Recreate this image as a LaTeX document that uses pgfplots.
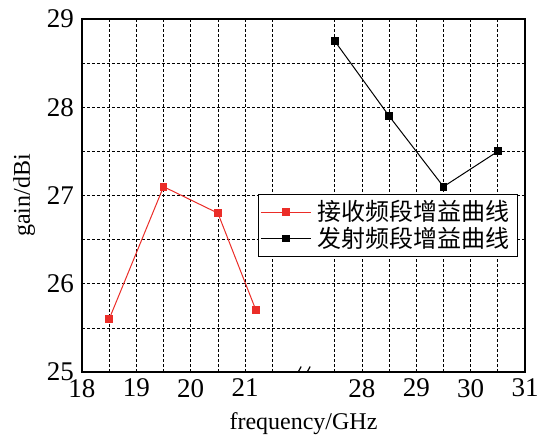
\documentclass[border=0pt]{standalone}
\usepackage{fontspec}
\setmainfont{Liberation Serif}
\newfontfamily\cjk{Noto Sans CJK SC}
\usepackage{pgfplots}
\pgfplotsset{compat=1.18}
\definecolor{myred}{RGB}{235,45,40}
\begin{document}
\begin{tikzpicture}
\begin{axis}[
  name=ax,
  scale only axis,
  width=221.5pt, height=176.5pt,
  xmin=18, xmax=26.15, ymin=25, ymax=29,
  xtick={18,19,20,21,23.15,24.15,25.15,26.15},
  xticklabels={18,19,20,21,28,29,30,31},
  minor xtick={18.5,19.5,20.5,21.5,22.65,23.65,24.65,25.65},
  ytick={25,26,27,28,29},
  minor ytick={25.5,26.5,27.5,28.5},
  grid=both,
  major grid style={black, line width=0.35pt, dash pattern=on 1.5pt off 1pt},
  minor grid style={black, line width=0.35pt, dash pattern=on 1.5pt off 1pt},
  major tick length=0pt, minor tick length=0pt,
  axis line style={line width=0.7pt},
  tick label style={font=\fontsize{13.5}{15}\selectfont},
  yticklabel style={xshift=-0.5pt},
  label style={font=\fontsize{12}{14}\selectfont},
  /pgf/number format/assume math mode=true,
  xlabel={frequency/GHz},
  xlabel style={at={([yshift=-17pt]axis description cs:0.5,0)}, anchor=north},
  ylabel={gain/dBi},
  ylabel style={at={([xshift=-20pt]axis description cs:0,0.5)}, anchor=south},
  legend cell align=left,
  legend style={at={(0.984,0.504)}, anchor=north east, draw=black, line width=0.5pt,
    font=\fontsize{12}{14}\selectfont, inner sep=1pt, row sep=-2.5pt,
    nodes={inner xsep=3pt}},
  legend image code/.code={\draw[#1] (0pt,0pt) -- (25pt,0pt); \draw[#1, mark repeat=1] plot coordinates {(12.5pt,0pt)};},
]
\addplot[myred, line width=0.5pt, mark=square*, mark size=1.7pt, mark options={solid, fill=myred}]
  coordinates {(18.5,25.6) (19.5,27.1) (20.5,26.8) (21.2,25.7)};
\addlegendentry{\cjk 接收频段增益曲线}
\addplot[black, line width=0.5pt, mark=square*, mark size=1.7pt, mark options={solid, fill=black}]
  table[x expr=\thisrow{f}-4.85, y=g] {
f g
27.5 28.75
28.5 27.9
29.5 27.1
30.5 27.5
};
\addlegendentry{\cjk 发射频段增益曲线}
\draw[line width=0.6pt] ([xshift=-3.75pt,yshift=-2.75pt]axis cs:22.06,25) -- ++(3pt,5.5pt);
\draw[line width=0.6pt] ([xshift=0.75pt,yshift=-2.75pt]axis cs:22.06,25) -- ++(3pt,5.5pt);
\end{axis}
\pgfresetboundingbox
\path ([xshift=-41pt,yshift=-33.5pt]ax.south west) rectangle ([xshift=7pt,yshift=9.5pt]ax.north east);
\end{tikzpicture}
\end{document}
